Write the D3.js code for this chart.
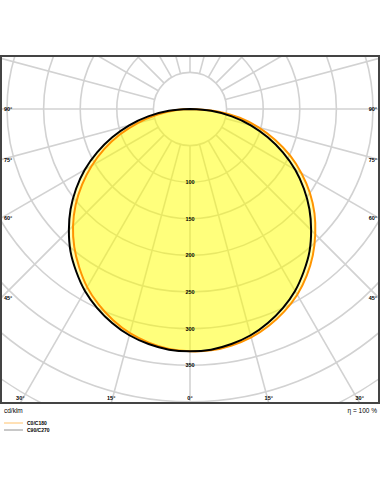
<!DOCTYPE html>
<html>
<head>
<meta charset="utf-8">
<script src="https://cdn.jsdelivr.net/npm/d3@7"></script>
<style>
  body { margin: 0; background: #fff; }
  text { font-family: "Liberation Sans", Arial, sans-serif; }
</style>
</head>
<body>
<script>
// gamma angles (deg from nadir) and intensities in cd/klm
var angles = [0, 5, 10, 15, 20, 25, 30, 35, 40, 45, 50, 55, 60, 65, 70, 75, 80, 85, 90];
var c0 = [331, 331, 328, 323, 315, 305, 293, 278, 261, 242, 222, 200, 176, 151, 124, 97, 69, 38, 0];
var c180 = [331, 329, 324, 317, 307, 295, 281, 264, 246, 226, 204, 180, 155, 129, 102, 74, 46, 22, 0];
var c90 = [331, 330, 326, 320, 311, 300, 287, 271, 254, 234, 213, 190, 166, 140, 113, 86, 58, 29, 0];
var c270 = [331, 330, 326, 320, 311, 300, 287, 271, 254, 234, 213, 190, 166, 140, 113, 86, 58, 29, 0];

var ringValues = [50, 100, 150, 200, 250, 300, 350, 400, 450, 500, 550];
var ringLabels = [100, 150, 200, 250, 300, 350];
var borderAngles = [0, 15, 30, 45, 60, 75, 90];
var legendItems = [
  { name: "C0/C180", color: "#ffb347" },
  { name: "C90/C270", color: "#777" }
];

var W = 381, H = 492;
var frame = { x: 1, y: 56, w: 378, h: 347 };
var cx = 190, cy = 109;

var svg = d3.select("body").append("svg").attr("width", W).attr("height", H);

var r = d3.scaleLinear().domain([0, 50]).range([0, 36.6]);

svg.append("clipPath").attr("id", "fr").append("rect")
  .attr("x", frame.x).attr("y", frame.y).attr("width", frame.w).attr("height", frame.h);

var grid = svg.append("g").attr("clip-path", "url(#fr)");

// radial lines every 15 deg, from 50 ring outward
var spokes = d3.range(0, 360, 15);
grid.selectAll("line.spoke").data(spokes).enter().append("line")
  .attr("x1", function (a) { return cx + r(50) * Math.sin(a * Math.PI / 180); })
  .attr("y1", function (a) { return cy + r(50) * Math.cos(a * Math.PI / 180); })
  .attr("x2", function (a) { return cx + r(700) * Math.sin(a * Math.PI / 180); })
  .attr("y2", function (a) { return cy + r(700) * Math.cos(a * Math.PI / 180); })
  .attr("stroke", "#d2d2d2").attr("stroke-width", 1.6);

grid.selectAll("circle.ring").data(ringValues).enter().append("circle")
  .attr("cx", cx).attr("cy", cy).attr("r", function (v) { return r(v); })
  .attr("fill", "none").attr("stroke", "#d2d2d2").attr("stroke-width", 1.6);

// curves
function pts(left, right) {
  var p = [];
  for (var i = angles.length - 1; i >= 0; i--) {
    p.push([-angles[i], left[i]]);
  }
  for (var j = 1; j < angles.length; j++) {
    p.push([angles[j], right[j]]);
  }
  return p;
}
var line = d3.line()
  .x(function (d) { return cx + r(d[1]) * Math.sin(d[0] * Math.PI / 180); })
  .y(function (d) { return cy + r(d[1]) * Math.cos(d[0] * Math.PI / 180); })
  .curve(d3.curveCatmullRomClosed);

var curveA = pts(c180, c0);
var curveB = pts(c270, c90);

svg.append("path").attr("d", line(curveA)).attr("fill", "rgba(255,255,0,0.3)").attr("stroke", "none");
svg.append("path").attr("d", line(curveB)).attr("fill", "rgba(255,255,0,0.3)").attr("stroke", "none");
svg.append("path").attr("d", line(curveA)).attr("fill", "none").attr("stroke", "#ff9400").attr("stroke-width", 2);
svg.append("path").attr("d", line(curveB)).attr("fill", "none").attr("stroke", "#000").attr("stroke-width", 2);

// ring labels
svg.selectAll("text.rl").data(ringLabels).enter().append("text")
  .attr("x", cx).attr("y", function (v) { return cy + r(v) + 2; })
  .attr("text-anchor", "middle").attr("font-size", 5.5).attr("font-weight", "bold")
  .text(function (v) { return v; });

// border angle labels
var bottomY = frame.y + frame.h;
borderAngles.forEach(function (a) {
  var t = Math.tan(a * Math.PI / 180);
  var dy = bottomY - cy;
  if (a < 40) {
    var dx = dy * t;
    [-1, 1].forEach(function (s) {
      if (a === 0 && s === 1) return;
      svg.append("text").attr("x", cx + s * dx).attr("y", bottomY - 3)
        .attr("text-anchor", "middle").attr("font-size", 5.5).attr("font-weight", "bold")
        .text(a + "°");
    });
  } else {
    var yy = cy + (cx - frame.x) / t;
    svg.append("text").attr("x", frame.x + 3).attr("y", yy + 2)
      .attr("font-size", 5.5).attr("font-weight", "bold").text(a + "°");
    svg.append("text").attr("x", frame.x + frame.w - 2).attr("y", yy + 2)
      .attr("text-anchor", "end").attr("font-size", 5.5).attr("font-weight", "bold").text(a + "°");
  }
});

svg.append("rect").attr("x", frame.x).attr("y", frame.y).attr("width", frame.w).attr("height", frame.h)
  .attr("fill", "none").attr("stroke", "#444").attr("stroke-width", 2);

svg.append("text").attr("x", 4).attr("y", 413).attr("font-size", 6.5).text("cd/klm");
svg.append("text").attr("x", 377).attr("y", 413).attr("text-anchor", "end").attr("font-size", 6.5).text("η = 100 %");

var lg = svg.selectAll("g.lg").data(legendItems).enter().append("g")
  .attr("transform", function (d, i) { return "translate(4," + (423 + i * 7) + ")"; });
lg.append("line").attr("x1", 0).attr("x2", 19).attr("stroke", function (d) { return d.color; }).attr("stroke-width", 0.8);
lg.append("text").attr("x", 23).attr("y", 2).attr("font-size", 5).attr("font-weight", "bold").text(function (d) { return d.name; });
</script>
</body>
</html>
